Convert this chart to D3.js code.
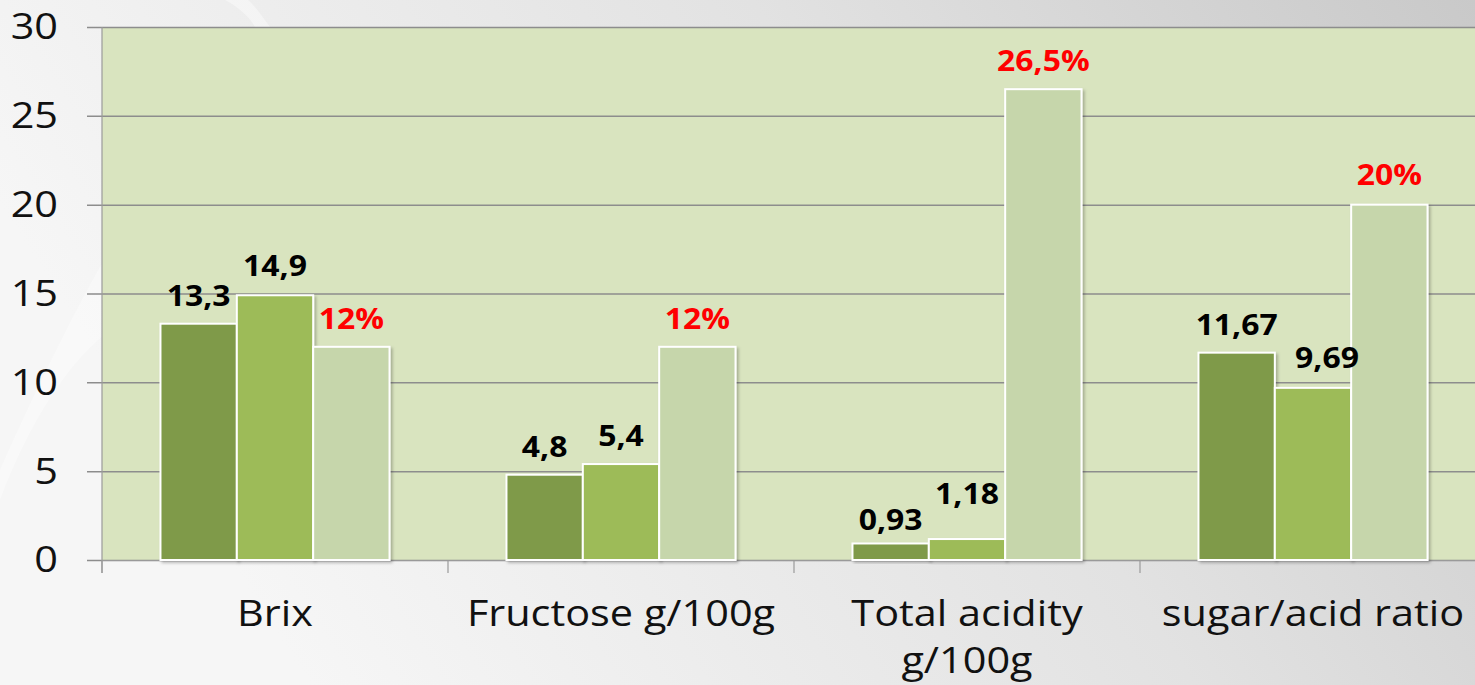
<!DOCTYPE html>
<html>
<head>
<meta charset="utf-8">
<script src="https://cdn.jsdelivr.net/npm/d3@7"></script>
<style>
  html, body { margin: 0; padding: 0; background: #e6e6e6; }
  svg { display: block; }
</style>
</head>
<body>
<div id="chart"></div>
<script>
// Chart data
const categories = ['Brix', 'Fructose g/100g', 'Total acidity g/100g', 'sugar/acid ratio'];
const seriesNames = ['A', 'B', 'Difference'];
const seriesA = [13.3, 4.8, 0.93, 11.67];
const seriesB = [14.9, 5.4, 1.18, 9.69];
const seriesDiff = [12, 12, 26.5, 20];
const yTicks = [0, 5, 10, 15, 20, 25, 30];

// Size and layout
const width = 1475;
const height = 685;
const plotLeft = 102;
const plotTop = 27;
const plotBottom = 560;
const catStep = 346;
const stretch = 1.12; // the slide text is a bit wider than the fonts we have

const colours = ['#7f9a4a', '#9dbb59', '#c6d6ab'];

// manual label nudges, like in the original slide
const labelNudge = {
    '2-0': [0, 5],
    '2-1': [0, -17],
    '3-1': [14, -2],
    '0-1': [0, -1],
    '3-2': [0, -2]
};

const rows = categories.map((c, i) => ({
    category: c,
    values: [seriesA[i], seriesB[i], seriesDiff[i]]
}));

const svg = d3.select('#chart')
    .append('svg')
    .attr('width', width)
    .attr('height', height);

const defs = svg.append('defs');

const bg = defs.append('linearGradient')
    .attr('id', 'bg')
    .attr('x1', '0%').attr('y1', '30%')
    .attr('x2', '100%').attr('y2', '0%');
bg.append('stop').attr('offset', '0%').attr('stop-color', '#f6f6f6');
bg.append('stop').attr('offset', '55%').attr('stop-color', '#e2e2e2');
bg.append('stop').attr('offset', '100%').attr('stop-color', '#c9c9c9');

const shadow = defs.append('filter')
    .attr('id', 'shadow')
    .attr('x', '-10%').attr('y', '-10%')
    .attr('width', '130%').attr('height', '130%');
shadow.append('feDropShadow')
    .attr('dx', 2).attr('dy', 2)
    .attr('stdDeviation', 1.5)
    .attr('flood-color', '#000')
    .attr('flood-opacity', 0.25);

// background + soft swoosh
svg.append('rect')
    .attr('width', width)
    .attr('height', height)
    .attr('fill', 'url(#bg)');

svg.append('path')
    .attr('d', 'M0,470 C40,380 80,300 110,250 L110,330 C70,360 30,420 0,500 Z')
    .attr('fill', '#ffffff')
    .attr('opacity', 0.35);
svg.append('path')
    .attr('d', 'M225,0 C240,8 250,18 255,27 L270,27 C262,16 255,6 248,0 Z')
    .attr('fill', '#ffffff')
    .attr('opacity', 0.4);

// Scales
const x0 = d3.scaleBand()
    .domain(categories)
    .range([plotLeft, plotLeft + catStep * categories.length])
    .padding(0);

const groupGap = x0.bandwidth() * 0.169;
const x1 = d3.scaleBand()
    .domain(seriesNames)
    .range([groupGap, x0.bandwidth() - groupGap]);

const y = d3.scaleLinear()
    .domain([0, 30])
    .range([plotBottom, plotTop]);

// Plot area
svg.append('rect')
    .attr('x', plotLeft)
    .attr('y', plotTop)
    .attr('width', x0.range()[1] - plotLeft)
    .attr('height', plotBottom - plotTop)
    .attr('fill', '#d9e4bf');

// Y axis with gridlines
const yAxis = svg.append('g')
    .attr('transform', `translate(${plotLeft},0)`)
    .call(d3.axisLeft(y)
        .tickValues(yTicks)
        .tickSize(-(x0.range()[1] - plotLeft))
        .tickSizeOuter(0));
yAxis.select('.domain').remove();
yAxis.selectAll('.tick line')
    .attr('x1', -15)
    .attr('stroke', '#8d8d8d')
    .attr('stroke-width', 1.5);
yAxis.selectAll('.tick text')
    .attr('x', 0)
    .attr('transform', `translate(-44,0) scale(${stretch},1)`)
    .attr('font-family', '"Open Sans", sans-serif')
    .attr('font-size', 37)
    .attr('fill', '#111');

svg.append('line')
    .attr('x1', plotLeft).attr('x2', plotLeft)
    .attr('y1', plotTop).attr('y2', plotBottom + 13)
    .attr('stroke', '#9a9a9a')
    .attr('stroke-width', 1.2);

// X axis
const xAxis = svg.append('g')
    .attr('transform', `translate(0,${plotBottom})`)
    .call(d3.axisBottom(x0).tickSize(0).tickFormat(''));
xAxis.select('.domain')
    .attr('stroke', '#9a9a9a')
    .attr('stroke-width', 1.2);

svg.selectAll('.cat-tick')
    .data(categories)
    .enter()
    .append('line')
    .attr('class', 'cat-tick')
    .attr('x1', d => x0(d)).attr('x2', d => x0(d))
    .attr('y1', plotBottom).attr('y2', plotBottom + 13)
    .attr('stroke', '#9a9a9a')
    .attr('stroke-width', 1.2);

// Category labels (wrapped)
const catLabels = svg.selectAll('.cat-label')
    .data(categories)
    .enter()
    .append('text')
    .attr('class', 'cat-label')
    .attr('text-anchor', 'middle')
    .attr('font-family', '"Open Sans", sans-serif')
    .attr('font-size', 37)
    .attr('fill', '#111')
    .attr('transform', d => `translate(${x0(d) + x0.bandwidth() / 2},626) scale(${stretch},1)`);

catLabels.each(function(d) {
    const lines = d === 'Total acidity g/100g' ? ['Total acidity', 'g/100g'] : [d];
    const t = d3.select(this);
    lines.forEach((ln, i) => {
        t.append('tspan')
            .attr('x', 0)
            .attr('dy', i === 0 ? 0 : 47)
            .text(ln);
    });
});

// Bars
const groups = svg.selectAll('.group')
    .data(rows)
    .enter()
    .append('g')
    .attr('class', 'group')
    .attr('transform', d => `translate(${x0(d.category)},0)`);

groups.selectAll('rect')
    .data((d, ci) => d.values.map((v, si) => ({ v, si, ci })))
    .enter()
    .append('rect')
    .attr('x', d => x1(seriesNames[d.si]))
    .attr('y', d => y(d.v))
    .attr('width', x1.bandwidth())
    .attr('height', d => y(0) - y(d.v))
    .attr('fill', d => colours[d.si])
    .attr('stroke', '#ffffff')
    .attr('stroke-width', 2)
    .attr('filter', 'url(#shadow)');

// Value labels
const fmt = v => String(v).replace('.', ',');

groups.selectAll('.val')
    .data((d, ci) => d.values.map((v, si) => ({ v, si, ci })))
    .enter()
    .append('text')
    .attr('class', 'val')
    .attr('text-anchor', 'middle')
    .attr('font-family', '"Open Sans", sans-serif')
    .attr('font-weight', 'bold')
    .attr('font-size', 29)
    .attr('fill', d => d.si === 2 ? '#ff0000' : '#000000')
    .attr('transform', d => {
        const n = labelNudge[`${d.ci}-${d.si}`] || [0, 0];
        const lx = x1(seriesNames[d.si]) + x1.bandwidth() / 2 + n[0];
        const ly = y(d.v) - 18 + n[1];
        return `translate(${lx},${ly}) scale(1.1,1)`;
    })
    .text(d => d.si === 2 ? fmt(d.v) + '%' : fmt(d.v));
</script>
</body>
</html>
